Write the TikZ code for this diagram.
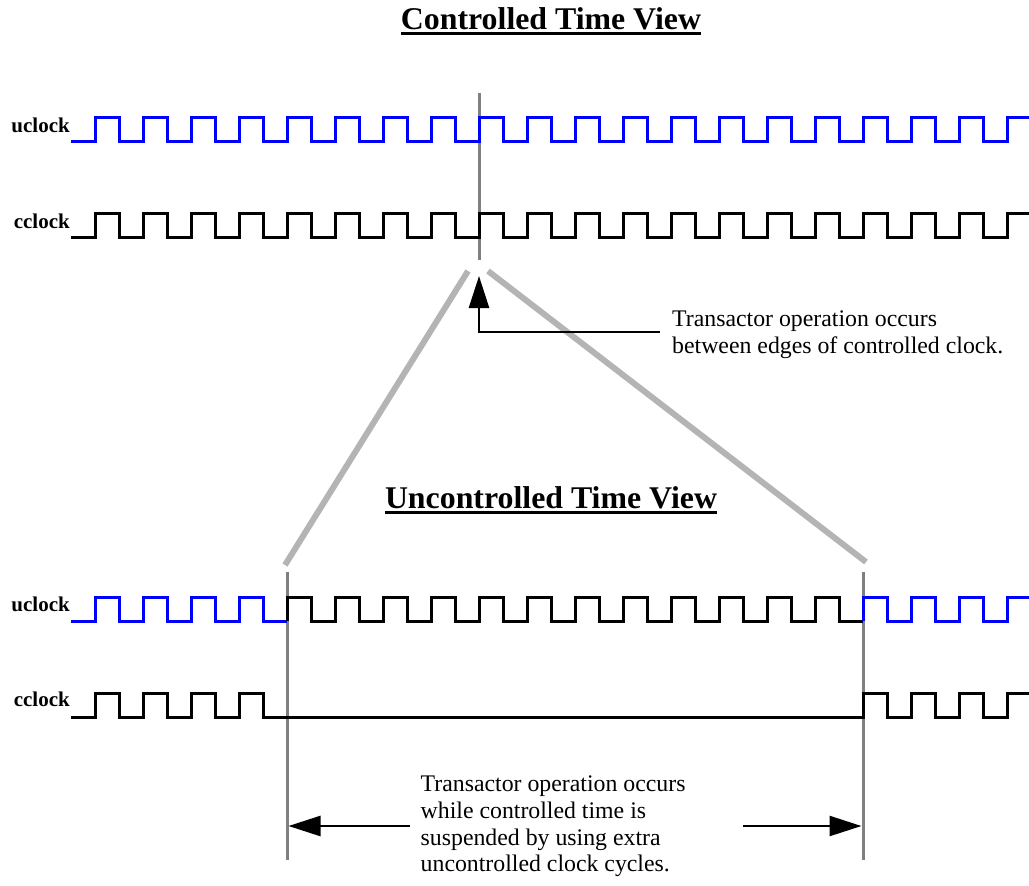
\documentclass[tikz,border=0pt]{standalone}
\usepackage{fontspec}
\setmainfont{Liberation Serif}
\usepackage{graphicx}
\usetikzlibrary{arrows.meta}
\definecolor{clkblue}{RGB}{0,0,255}
\definecolor{markgray}{RGB}{128,128,128}
\definecolor{zoomgray}{RGB}{180,180,180}

\begin{document}
\begin{tikzpicture}[x=1pt,y=-1pt,
  wave/.style={line width=3pt, line join=miter},
  marker/.style={draw=markgray, line width=3pt},
  zoomline/.style={draw=zoomgray, line width=6pt},
  pointer/.style={line width=2.5pt, -{Triangle[length=32pt,width=20pt]}},
  siglabel/.style={anchor=base east, inner sep=0pt, font=\fontsize{21}{23}\selectfont\bfseries},
  note/.style={anchor=north west, inner sep=0pt, align=left, font=\fontsize{23.8}{26.6}\selectfont},
  viewtitle/.style={anchor=base, inner sep=0pt, font=\fontsize{31.6}{34}\selectfont\bfseries},
  titlerule/.style={line width=2.3pt}
]
\useasboundingbox (0,0) rectangle (1029,886);

% ---------- titles ----------
\node[viewtitle] (ctv) at (551,29.5) {\resizebox{300pt}{\height}{Controlled Time View}};
\draw[titlerule] ([yshift=-4pt]ctv.base west) -- ([yshift=-4pt]ctv.base east);
\node[viewtitle] (utv) at (551,508) {\resizebox{332pt}{\height}{Uncontrolled Time View}};
\draw[titlerule] ([yshift=-4.5pt]utv.base west) -- ([yshift=-4.5pt]utv.base east);

% ---------- signal labels ----------
\node[siglabel] (u1) at (70,132.3) {uclock};
\node[siglabel] (c1) at (70,228) {cclock};
\node[siglabel] (u2) at (70,611) {uclock};
\node[siglabel] (c2) at (70,706) {cclock};

% ---------- zoom lines and time markers ----------
\draw[zoomline] (468,271) -- (285,565);
\draw[zoomline] (488,271) -- (866,562);
\draw[marker] (479,93) -- (479,260);
\draw[marker] (287,572) -- (287,860);
\draw[marker] (863,572) -- (863,860);

% ---------- controlled time view waveforms ----------
\draw[wave, clkblue] (71,141)
  \foreach \k in {0,...,18}{ -- ({95+48*\k},141) -- ({95+48*\k},117) -- ({119+48*\k},117) -- ({119+48*\k},141) }
  -- (1007,141) -- (1007,117) -- (1029,117);
\draw[wave] (71,237)
  \foreach \k in {0,...,18}{ -- ({95+48*\k},237) -- ({95+48*\k},213.5) -- ({119+48*\k},213.5) -- ({119+48*\k},237) }
  -- (1007,237) -- (1007,213.5) -- (1029,213.5);

% ---------- uncontrolled time view waveforms ----------
\draw[wave, clkblue] (71,621)
  \foreach \k in {0,...,3}{ -- ({95+48*\k},621) -- ({95+48*\k},597) -- ({119+48*\k},597) -- ({119+48*\k},621) }
  -- (287,621);
\draw[wave] (287,621)
  \foreach \k in {4,...,15}{ -- ({95+48*\k},621) -- ({95+48*\k},597) -- ({119+48*\k},597) -- ({119+48*\k},621) }
  -- (863,621);
\draw[wave, clkblue] (863,621)
  \foreach \k in {16,...,18}{ -- ({95+48*\k},621) -- ({95+48*\k},597) -- ({119+48*\k},597) -- ({119+48*\k},621) }
  -- (1007,621) -- (1007,597) -- (1029,597);
\draw[wave] (71,717)
  \foreach \k in {0,1,2,3,16,17,18}{ -- ({95+48*\k},717) -- ({95+48*\k},693) -- ({119+48*\k},693) -- ({119+48*\k},717) }
  -- (1007,717) -- (1007,693) -- (1029,693);

% ---------- annotations ----------
\node[note] (opnote) at (672,310.8) {Transactor operation occurs\\between edges of controlled clock.};
\coordinate (optip) at (479,276);
\coordinate (optail) at (660,332);
\draw[pointer] (optail) -| (optip);

\node[note] (susnote) at (420.5,776) {Transactor operation occurs\\while controlled time is\\suspended by using extra\\uncontrolled clock cycles.};
\coordinate (susltail) at (410,826);
\coordinate (susltip) at (288.5,826);
\coordinate (susrtail) at (743,826);
\coordinate (susrtip) at (861.5,826);
\draw[pointer] (susltail) -- (susltip);
\draw[pointer] (susrtail) -- (susrtip);
\end{tikzpicture}
\end{document}
